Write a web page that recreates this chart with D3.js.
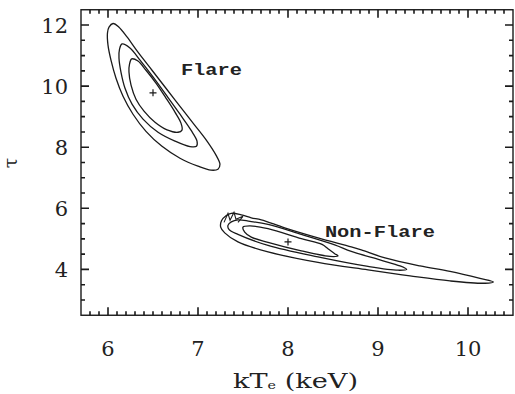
<!DOCTYPE html>
<html><head><meta charset="utf-8">
<script src="https://cdn.jsdelivr.net/npm/d3@7"></script>
<style>body{margin:0;background:#fff}svg{display:block}</style></head>
<body><svg id="c" width="515" height="394"></svg>
<script>
// ---- data ----
const xDomain = [5.7, 10.5];
const yDomain = [2.5, 12.5];
const xTickValues = [6, 7, 8, 9, 10];
const yTickValues = [4, 6, 8, 10, 12];
const xMinorStep = 0.1;
const yMinorStep = 0.5;
const xLabel = "kT";
const xLabelSub = "e";
const xLabelUnit = " (keV)";
const yLabel = "τ";

const flareBest = [6.5, 9.78];
const nonFlareBest = [8.0, 4.9];

const flareOuter = [[6.056,12.05],[6.011,11.93],[5.994,11.74],[6.0,11.34],[6.033,10.85],[6.089,10.26],[6.167,9.67],[6.278,9.08],[6.422,8.52],[6.6,8.03],[6.8,7.64],[7.0,7.38],[7.144,7.25],[7.222,7.28],[7.244,7.44],[7.2,7.74],[7.1,8.20],[6.956,8.75],[6.8,9.34],[6.644,9.93],[6.489,10.52],[6.333,11.11],[6.211,11.61],[6.122,11.93]];
const flareMiddle = [[6.156,11.38],[6.128,11.21],[6.122,10.92],[6.144,10.46],[6.189,9.93],[6.267,9.41],[6.389,8.92],[6.556,8.49],[6.744,8.20],[6.911,8.02],[6.983,8.03],[6.989,8.20],[6.922,8.56],[6.8,9.08],[6.656,9.67],[6.5,10.30],[6.356,10.85],[6.244,11.25]];
const flareInner = [[6.263,10.89],[6.239,10.72],[6.233,10.46],[6.256,10.03],[6.311,9.57],[6.4,9.18],[6.522,8.82],[6.656,8.57],[6.778,8.49],[6.822,8.56],[6.811,8.79],[6.744,9.15],[6.644,9.61],[6.533,10.10],[6.422,10.52],[6.333,10.82]];

const nonFlareOuter = [[7.252,5.387],[7.261,5.59],[7.311,5.754],[7.37,5.836],[7.481,5.787],[7.592,5.689],[7.703,5.623],[7.963,5.361],[8.333,5.033],[8.703,4.738],[8.814,4.639],[9.078,4.377],[9.467,4.115],[9.8,3.934],[10.133,3.705],[10.281,3.59],[10.189,3.548],[9.8,3.623],[9.356,3.787],[8.889,3.984],[8.333,4.23],[7.778,4.574],[7.444,4.902],[7.297,5.197]];
const nonFlareMiddle = [[7.333,5.443],[7.37,5.557],[7.444,5.623],[7.578,5.574],[7.778,5.475],[8.148,5.148],[8.519,4.803],[8.703,4.59],[9.022,4.311],[9.244,4.115],[9.319,4.0],[9.222,3.974],[8.889,4.098],[8.333,4.41],[7.778,4.787],[7.444,5.148],[7.344,5.311]];
const nonFlareInner = [[7.5,5.387],[7.578,5.426],[7.778,5.334],[8.148,5.007],[8.378,4.82],[8.444,4.679],[8.519,4.515],[8.556,4.443],[8.467,4.426],[8.148,4.607],[7.778,4.885],[7.592,5.059],[7.519,5.223]];
const nonFlareSpike = [[7.289,5.54],[7.333,5.836],[7.356,5.607],[7.4,5.869],[7.422,5.639],[7.5,5.738],[7.444,5.54]];

const labels = [{text:"Flare", x:6.81, y:10.35, w:61}, {text:"Non-Flare", x:8.41, y:5.05, w:110}];

// ---- drawing ----
const m = {left:81, right:513, top:9.75, bottom:315.25};
const svg = d3.select("#c");
const x = d3.scaleLinear().domain(xDomain).range([m.left, m.right]);
const y = d3.scaleLinear().domain(yDomain).range([m.bottom, m.top]);
const ink = "#1a1a1a";

const xMinor = d3.range(Math.round(xDomain[0]/xMinorStep)+1, Math.round(xDomain[1]/xMinorStep)).map(k => +(k*xMinorStep).toFixed(2));
const yMinor = d3.range(Math.round(yDomain[0]/yMinorStep)+1, Math.round(yDomain[1]/yMinorStep)).map(k => +(k*yMinorStep).toFixed(2));

let d = "";
xMinor.forEach(v => {
  const len = xTickValues.includes(v) ? 8 : 4, px = x(v).toFixed(2);
  d += `M${px},${m.bottom}V${m.bottom-len}M${px},${m.top}V${m.top+len}`;
});
yMinor.forEach(v => {
  const len = yTickValues.includes(v) ? 8 : 4, py = y(v).toFixed(2);
  d += `M${m.left},${py}H${m.left+len}M${m.right},${py}H${m.right-len}`;
});
svg.append("path").attr("d", d).attr("fill","none").attr("stroke", ink).attr("stroke-width", 1.6);

// frame
svg.append("rect").attr("x",m.left).attr("y",m.top).attr("width",m.right-m.left).attr("height",m.bottom-m.top)
  .attr("fill","none").attr("stroke",ink).attr("stroke-width",1.4);

const serif = "'DejaVu Serif', serif";
svg.selectAll("text.xt").data(xTickValues).join("text").attr("class","xt")
  .attr("x", v => x(v)).attr("y", 356).attr("text-anchor","middle")
  .attr("font-family", serif).attr("font-size",21).attr("fill","#222").text(v => v);
svg.selectAll("text.yt").data(yTickValues).join("text").attr("class","yt")
  .attr("x", 68).attr("y", v => y(v) + 8).attr("text-anchor","end")
  .attr("font-family", serif).attr("font-size",21).attr("fill","#222").text(v => v);

const xt = svg.append("text").attr("x",233).attr("y",388)
  .attr("font-family", serif).attr("font-size",21).attr("fill","#222")
  .attr("textLength",125).attr("lengthAdjust","spacingAndGlyphs");
xt.append("tspan").text(xLabel);
xt.append("tspan").attr("font-size",11).attr("dy",1).text(xLabelSub);
xt.append("tspan").attr("dy",-1).text(xLabelUnit);
svg.append("text").attr("transform","translate(17,163) rotate(-90)").attr("text-anchor","middle")
  .attr("font-family", serif).attr("font-size",19).attr("fill","#222").text(yLabel);

const closed = d3.line().x(p => x(p[0])).y(p => y(p[1])).curve(d3.curveCatmullRomClosed.alpha(0.5));
[flareOuter, flareMiddle, flareInner, nonFlareOuter, nonFlareMiddle, nonFlareInner].forEach(c => {
  svg.append("path").attr("d", closed(c)).attr("fill","none").attr("stroke",ink).attr("stroke-width",1.3);
});
const open = d3.line().x(p => x(p[0])).y(p => y(p[1]));
svg.append("path").attr("d", open(nonFlareSpike)).attr("fill","none").attr("stroke",ink).attr("stroke-width",1.1);

[flareBest, nonFlareBest].forEach(p => {
  svg.append("path").attr("transform",`translate(${x(p[0])},${y(p[1])})`)
    .attr("d","M-3.5,0H3.5M0,-3.5V3.5").attr("stroke",ink).attr("stroke-width",1.2);
});

svg.selectAll("text.lab").data(labels).join("text").attr("class","lab")
  .attr("x", v => x(v.x)).attr("y", v => y(v.y))
  .attr("font-family","'Liberation Mono', 'Courier New', monospace").attr("font-weight","bold")
  .attr("font-size",16).attr("fill","#222")
  .attr("textLength", v => v.w).attr("lengthAdjust","spacingAndGlyphs").text(v => v.text);
</script>
</body></html>
